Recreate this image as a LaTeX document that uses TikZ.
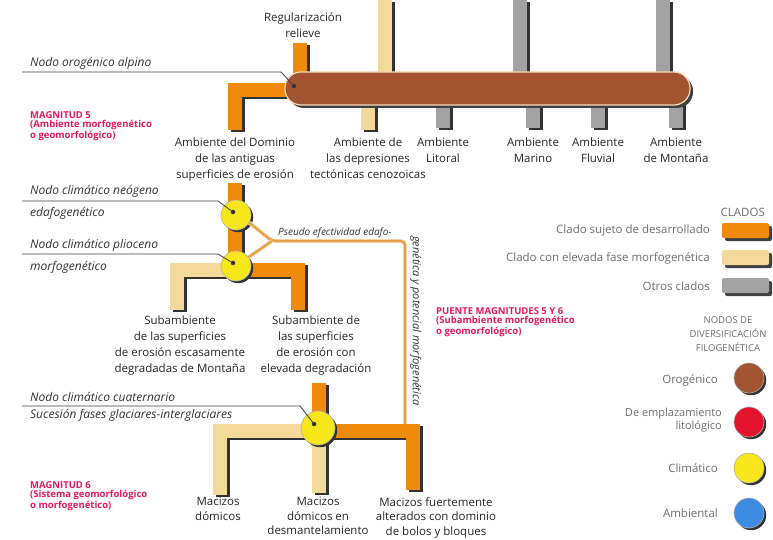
\documentclass[tikz,border=0pt]{standalone}
\usepackage{fontspec}
\setmainfont{Open Sans}
\usetikzlibrary{positioning,shadows}
\definecolor{naranja}{HTML}{EF8A0C}
\definecolor{crema}{HTML}{F3D99A}
\definecolor{gris}{HTML}{A3A3A3}
\definecolor{marron}{HTML}{A2532F}
\definecolor{borde}{HTML}{F6DDB8}
\definecolor{amarillo}{HTML}{F6E61A}
\definecolor{rojo}{HTML}{E5122E}
\definecolor{azul}{HTML}{3C8CE4}
\definecolor{rosa}{HTML}{E5185F}
\definecolor{tostado}{HTML}{E6A045}
\definecolor{texto}{HTML}{6E6E6E}
\newcommand{\rama}[2]{\draw[sombra] #2; \draw[#1] #2;}

\begin{document}
\begin{tikzpicture}[x=1pt,y=-1pt,
    clado/.style={line width=14pt,line cap=butt,line join=miter},
    sombra/.style={clado,draw=black!80,xshift=3pt,yshift=-2pt},
    desarrollo/.style={clado,draw=naranja},
    fuga/.style={clado,draw=crema},
    otro/.style={clado,draw=gris},
    nodo/.style={circle,minimum size=30pt,inner sep=0pt,draw=black!30,line width=0.6pt,
        drop shadow={shadow xshift=2.2pt,shadow yshift=-2.2pt,fill=black!80,opacity=1}},
    puente/.style={draw=tostado,line width=2.2pt,rounded corners=4pt,
        preaction={draw=borde,line width=4pt}},
    guia/.style={draw=black!75,line width=0.8pt},
    punto/.style={circle,fill=black!80,inner sep=1.6pt},
    lbl/.style={align=center,inner sep=0pt,font=\fontsize{11.5}{16}\selectfont,text=black!85},
    nota/.style={anchor=west,inner sep=0pt,font=\fontsize{12}{12}\selectfont\itshape,text=black!80},
    magn/.style={anchor=west,align=left,inner sep=0pt,font=\fontsize{9.5}{9.5}\selectfont\bfseries,text=rosa},
    ley/.style={anchor=east,align=right,inner sep=0pt,font=\fontsize{11.5}{12}\selectfont,text=texto}]
    \useasboundingbox (0,0) rectangle (773,540);
    \fill[white] (0,0) rectangle (773,540);

    \rama{fuga}{(385,0) -- (385,76)}
    \rama{otro}{(520,0) -- (520,76)}
    \rama{otro}{(663,0) -- (663,76)}
    \rama{desarrollo}{(300,43) -- (300,76)}
    \rama{desarrollo}{(292,90) -- (235,90) -- (235,130)}
    \rama{fuga}{(368,100) -- (368,130)}
    \rama{otro}{(443,100) -- (443,128)}
    \rama{otro}{(533,100) -- (533,128)}
    \rama{otro}{(598,100) -- (598,128)}
    \rama{otro}{(676,100) -- (676,128)}
    \fill[black!75,rounded corners=16pt] (288,75) rectangle (693,108);
    \draw[fill=marron,draw=borde,line width=1.2pt,rounded corners=16pt] (285,72) rectangle (690,105);

    \node[lbl] (relieve) at (303,25) {Regularización\\relieve};
    \node[lbl,anchor=north] (dominio) at (235,138) {Ambiente del Dominio\\de las antiguas\\superficies de erosión};
    \node[lbl,anchor=north] (depres) at (368,138) {Ambiente de\\las depresiones\\tectónicas cenozoicas};
    \node[lbl,anchor=north] (litoral) at (443,138) {Ambiente\\Litoral};
    \node[lbl,anchor=north] (marino) at (533,138) {Ambiente\\Marino};
    \node[lbl,anchor=north] (fluvial) at (598,138) {Ambiente\\Fluvial};
    \node[lbl,anchor=north] (montana) at (676,138) {Ambiente\\de Montaña};

    \node[nota] (alpino) at (30,63) {Nodo orogénico alpino};
    \node[punto] (p0) at (294,86) {};
    \draw[guia] (22,72) -- (281,72) -- (p0);
    \node[magn] (mag5) at (30,126) {MAGNITUD 5\\(Ambiente morfogenético\\o geomorfológico)};

    \rama{desarrollo}{(235,183) -- (235,268)}
    \rama{fuga}{(236,270) -- (177,270) -- (177,310)}
    \rama{desarrollo}{(236,270) -- (298,270) -- (298,310)}
    \coordinate (vertice) at (272,241);
    \coordinate (esquina) at (405,241);
    \coordinate (union) at (405,424);
    \node[nodo,fill=amarillo] (n1) at (236,215) {};
    \node[nodo,fill=amarillo] (n2) at (236,266) {};
    \draw[puente] (n1.-30) -- (vertice) -- (esquina) -- (union);
    \draw[puente] (n2.35) -- (vertice);
    \node[punto] (p1) at (233,212) {};
    \node[punto] (p2) at (233,263) {};
    \node[nota,font=\fontsize{10}{10}\selectfont\itshape,anchor=south west] (edafo) at (278,238) {Pseudo efectividad edafo-};
    \node[nota,font=\fontsize{11}{10}\selectfont\itshape,rotate=-90,anchor=south west] (morfo) at (410,236) {genética y potencial morfogenética};

    \node[nota] (neogeno) at (30,191) {Nodo climático neógeno};
    \node[nota] (edafog) at (30,213) {edafogenético};
    \draw[guia] (22,201) -- (218,201) -- (p1);
    \node[nota] (plioceno) at (30,245) {Nodo climático plioceno};
    \node[nota] (morfog) at (30,267) {morfogenético};
    \draw[guia] (22,254) -- (218,254) -- (p2);

    \node[lbl,anchor=north] (escasa) at (180,316) {Subambiente\\de las superficies\\de erosión escasamente\\degradadas de Montaña};
    \node[lbl,anchor=north] (elevada) at (316,316) {Subambiente de\\las superficies\\de erosión con\\elevada degradación};
    \node[magn] (mag56) at (436,322) {PUENTE MAGNITUDES 5 Y 6\\(Subambiente morfogenético\\o geomorfológico)};

    \rama{desarrollo}{(319,383) -- (319,430)}
    \rama{fuga}{(319,431) -- (220,431) -- (220,495)}
    \rama{fuga}{(319,431) -- (319,493)}
    \rama{desarrollo}{(319,431) -- (413,431) -- (413,490)}
    \node[nodo,fill=amarillo,minimum size=34pt] (n3) at (318,428) {};
    \node[punto] (p3) at (314,424) {};
    \node[nota] (cuaternario) at (30,397) {Nodo climático cuaternario};
    \node[nota] (fases) at (30,415) {Sucesión fases glaciares-interglaciares};
    \draw[guia] (22,406) -- (300,406) -- (p3);
    \node[magn] (mag6) at (30,496) {MAGNITUD 6\\(Sistema geomorfológico\\o morfogenético)};

    \node[lbl,anchor=north,font=\fontsize{11.5}{14.5}\selectfont] (domicos) at (218,497) {Macizos\\dómicos};
    \node[lbl,anchor=north,font=\fontsize{11.5}{14.5}\selectfont] (desmant) at (318,497) {Macizos\\dómicos en\\desmantelamiento};
    \node[lbl,anchor=north,font=\fontsize{11.5}{14.5}\selectfont] (bolos) at (436,497) {Macizos fuertemente\\alterados con dominio\\de bolos y bloques};

    \node[ley] (clados) at (765,212) {CLADOS};
    \node[ley] (l1) at (710,231) {Clado sujeto de desarrollado};
    \node[ley] (l2) at (710,258) {Clado con elevada fase morfogenética};
    \node[ley] (l3) at (710,286) {Otros clados};
    \foreach \y/\c in {231/naranja,258/crema,286/gris}{
        \fill[black!75,rounded corners=2pt] (725,\y-5) rectangle (772,\y+10);
        \fill[\c,rounded corners=2pt] (722,\y-8) rectangle (769,\y+7);
    }
    \node[ley,align=center,anchor=north,font=\fontsize{9.5}{14}\selectfont] (nodos) at (728,316) {NODOS DE\\DIVERSIFICACIÓN\\FILOGENÉTICA};
    \node[ley] (orog) at (718,380) {Orogénico};
    \node[ley,font=\fontsize{11}{13}\selectfont] (lito) at (722,420) {De emplazamiento\\litológico};
    \node[ley] (clim) at (718,468) {Climático};
    \node[ley] (amb) at (718,513) {Ambiental};
    \node[nodo,fill=marron] (c1) at (749,378) {};
    \node[nodo,fill=rojo] (c2) at (749,422) {};
    \node[nodo,fill=amarillo] (c3) at (749,468) {};
    \node[nodo,fill=azul] (c4) at (749,513) {};
\end{tikzpicture}
\end{document}
